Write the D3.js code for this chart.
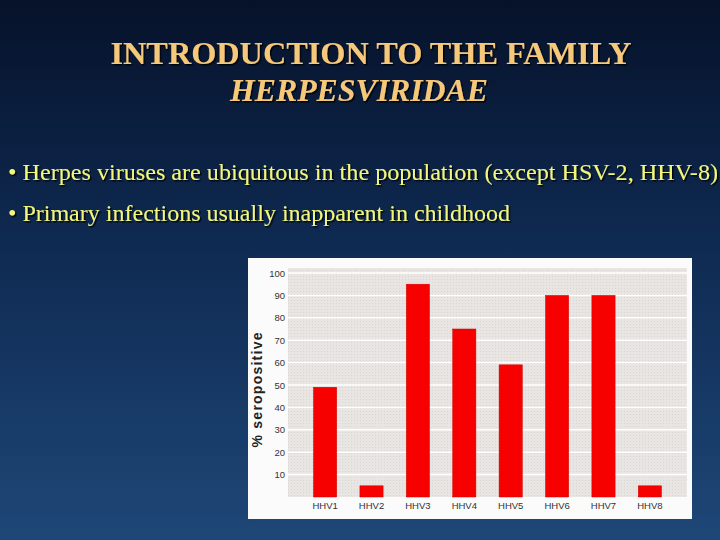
<!DOCTYPE html>
<html>
<head>
<meta charset="utf-8">
<script src="https://cdn.jsdelivr.net/npm/d3@7"></script>
<style>
  html, body { margin: 0; padding: 0; background: #0b1a33; }
  svg { display: block; }
</style>
</head>
<body>
<div id="graph"></div>
<script>
// data
var viruses = ['HHV1', 'HHV2', 'HHV3', 'HHV4', 'HHV5', 'HHV6', 'HHV7', 'HHV8']
var seropositive = [49, 5, 95, 75, 59, 90, 90, 5]
var yTicks = [10, 20, 30, 40, 50, 60, 70, 80, 90, 100]

var titleLines = ['INTRODUCTION TO THE FAMILY', 'HERPESVIRIDAE']
var bullets = [
  'Herpes viruses are ubiquitous in the population (except HSV-2, HHV-8)',
  'Primary infections usually inapparent in childhood'
]
var bulletWidths = [710, 502]

var W = 720, H = 540

var svg = d3.select('#graph').append('svg')
  .attr('width', W).attr('height', H)

var defs = svg.append('defs')

var bg = defs.append('linearGradient').attr('id', 'bg')
  .attr('x1', 0).attr('y1', 0).attr('x2', 0).attr('y2', 1)
bg.append('stop').attr('offset', '0%').attr('stop-color', '#06122a')
bg.append('stop').attr('offset', '45%').attr('stop-color', '#0f2a52')
bg.append('stop').attr('offset', '100%').attr('stop-color', '#1e4777')

var shadow = defs.append('filter').attr('id', 'shadow')
  .attr('x', -0.05).attr('y', -0.2).attr('width', 1.1).attr('height', 1.5)
shadow.append('feDropShadow')
  .attr('dx', 1.5).attr('dy', 1.5).attr('stdDeviation', 0.6)
  .attr('flood-color', '#000').attr('flood-opacity', 0.85)

var dots = defs.append('pattern').attr('id', 'dots')
  .attr('width', 3).attr('height', 3).attr('patternUnits', 'userSpaceOnUse')
dots.append('rect').attr('width', 3).attr('height', 3).attr('fill', '#e8e5e2')
dots.append('rect').attr('width', 1).attr('height', 1).attr('fill', '#d8d5d2')

svg.append('rect').attr('width', W).attr('height', H).attr('fill', 'url(#bg)')

// title
svg.append('text')
  .attr('x', 371).attr('y', 64)
  .attr('text-anchor', 'middle')
  .attr('font-family', '"Liberation Serif", "Times New Roman", serif')
  .attr('font-weight', 'bold').attr('font-size', 31)
  .attr('fill', '#f6c87a')
  .attr('filter', 'url(#shadow)')
  .attr('textLength', 521).attr('lengthAdjust', 'spacingAndGlyphs')
  .text(titleLines[0])

svg.append('text')
  .attr('x', 359).attr('y', 101)
  .attr('text-anchor', 'middle')
  .attr('font-family', '"Liberation Serif", "Times New Roman", serif')
  .attr('font-weight', 'bold').attr('font-style', 'italic').attr('font-size', 31)
  .attr('fill', '#f6c87a')
  .attr('filter', 'url(#shadow)')
  .attr('textLength', 258).attr('lengthAdjust', 'spacingAndGlyphs')
  .text(titleLines[1])

// bullets
svg.selectAll('text.bullet').data(bullets).join('text')
  .attr('class', 'bullet')
  .attr('x', 8).attr('y', (d, i) => 180 + i*41)
  .attr('font-family', '"Liberation Serif", "Times New Roman", serif')
  .attr('font-size', 23)
  .attr('fill', '#f2f77c')
  .attr('filter', 'url(#shadow)')
  .attr('textLength', (d, i) => bulletWidths[i]).attr('lengthAdjust', 'spacingAndGlyphs')
  .text(d => '\u2022 ' + d)

// chart panel
var panel = {left: 248, top: 258, right: 692, bottom: 519}
var plot = {left: 288, top: 268, right: 687, bottom: 497}

svg.append('rect')
  .attr('x', panel.left).attr('y', panel.top)
  .attr('width', panel.right - panel.left).attr('height', panel.bottom - panel.top)
  .attr('fill', '#fbfbfb')

svg.append('rect')
  .attr('x', plot.left).attr('y', plot.top)
  .attr('width', plot.right - plot.left).attr('height', plot.bottom - plot.top)
  .attr('fill', 'url(#dots)')

var x = d3.scaleBand()
  .domain(viruses)
  .range([plot.left, plot.right])
  .paddingInner(0.5)
  .paddingOuter(0.55)

var y = d3.scaleLinear()
  .domain([0, 100])
  .range([plot.bottom, 273])

// white gridlines
svg.append('g')
  .selectAll('line').data(yTicks).join('line')
  .attr('x1', plot.left).attr('x2', plot.right)
  .attr('y1', d => y(d)).attr('y2', d => y(d))
  .attr('stroke', '#fff').attr('stroke-width', 1.5)

// bars
svg.append('g')
  .selectAll('rect').data(seropositive).join('rect')
  .attr('x', (d, i) => x(viruses[i]))
  .attr('width', x.bandwidth())
  .attr('y', d => y(d))
  .attr('height', d => y(0) - y(d))
  .attr('fill', '#f70000')
  .attr('stroke', '#d00000').attr('stroke-width', 0.5)

// axes
var yAxis = svg.append('g')
  .attr('transform', 'translate(' + (plot.left - 1) + ',0)')
  .call(d3.axisLeft(y).tickValues(yTicks).tickSize(0).tickPadding(2))
yAxis.select('.domain').remove()
yAxis.selectAll('text')
  .attr('font-family', '"Liberation Sans", Arial, sans-serif')
  .attr('font-size', 9.5).attr('fill', '#333')

var xAxis = svg.append('g')
  .attr('transform', 'translate(0,' + plot.bottom + ')')
  .call(d3.axisBottom(x).tickSize(0).tickPadding(5))
xAxis.select('.domain').remove()
xAxis.selectAll('text')
  .attr('font-family', '"Liberation Sans", Arial, sans-serif')
  .attr('font-size', 9.5).attr('fill', '#333')

svg.append('text')
  .attr('transform', 'translate(262,390) rotate(-90)')
  .attr('text-anchor', 'middle')
  .attr('font-family', '"Liberation Sans", Arial, sans-serif')
  .attr('font-weight', 'bold').attr('font-size', 14)
  .attr('fill', '#222')
  .attr('textLength', 115).attr('lengthAdjust', 'spacing')
  .text('% seropositive')
</script>
</body>
</html>
